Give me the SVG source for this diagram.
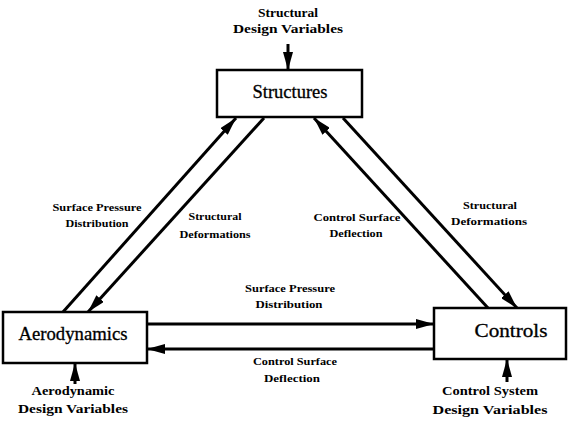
<svg xmlns="http://www.w3.org/2000/svg" width="577" height="424" viewBox="0 0 577 424">
<style>
text{font-family:"Liberation Serif","Times New Roman","DejaVu Serif",serif}
.box{fill:#fff;stroke:#000;stroke-width:2.5}
.node{font-size:18px;fill:#000;stroke:#000;stroke-width:0.3;text-anchor:middle}
.lbl{font-size:10px;font-weight:bold;fill:#000;text-anchor:middle}
.in{font-size:12.5px;font-weight:bold;fill:#000;text-anchor:middle}
.conn{stroke:#000;stroke-width:3;fill:none;stroke-linecap:butt}
</style>
<defs>
<marker id="ah" markerUnits="userSpaceOnUse" markerWidth="18" markerHeight="10" refX="18" refY="5" orient="auto">
<path d="M0,0 L18,5 L0,10 z" fill="#000"/>
</marker>
</defs>
<g id="connectors" font-family="Liberation Serif, serif">
<line class="conn" x1="63" y1="312" x2="236" y2="118" marker-end="url(#ah)"/>
<line class="conn" x1="264" y1="118" x2="88" y2="312" marker-end="url(#ah)"/>
<line class="conn" x1="488" y1="308" x2="314" y2="118" marker-end="url(#ah)"/>
<line class="conn" x1="343" y1="118" x2="517" y2="308" marker-end="url(#ah)"/>
<line class="conn" x1="147" y1="324" x2="434" y2="324" marker-end="url(#ah)"/>
<line class="conn" x1="434" y1="349" x2="147" y2="349" marker-end="url(#ah)"/>
<line class="conn" x1="288" y1="44" x2="288" y2="70" marker-end="url(#ah)"/>
<line class="conn" x1="75" y1="384" x2="75" y2="363" marker-end="url(#ah)"/>
<line class="conn" x1="507" y1="382" x2="507" y2="359" marker-end="url(#ah)"/>
<text class="lbl" x="97" y="211" textLength="89" lengthAdjust="spacingAndGlyphs">Surface Pressure</text>
<text class="lbl" x="97" y="227" textLength="63" lengthAdjust="spacingAndGlyphs">Distribution</text>
<text class="lbl" x="215" y="220" textLength="53" lengthAdjust="spacingAndGlyphs">Structural</text>
<text class="lbl" x="215" y="238" textLength="71" lengthAdjust="spacingAndGlyphs">Deformations</text>
<text class="lbl" x="357" y="221" textLength="87" lengthAdjust="spacingAndGlyphs">Control Surface</text>
<text class="lbl" x="356" y="237" textLength="53" lengthAdjust="spacingAndGlyphs">Deflection</text>
<text class="lbl" x="490" y="209" textLength="54" lengthAdjust="spacingAndGlyphs">Structural</text>
<text class="lbl" x="489" y="225" textLength="76" lengthAdjust="spacingAndGlyphs">Deformations</text>
<text class="lbl" x="290" y="292" textLength="90" lengthAdjust="spacingAndGlyphs">Surface Pressure</text>
<text class="lbl" x="289" y="308" textLength="67" lengthAdjust="spacingAndGlyphs">Distribution</text>
<text class="lbl" x="295" y="365" textLength="84" lengthAdjust="spacingAndGlyphs">Control Surface</text>
<text class="lbl" x="292" y="382" textLength="56" lengthAdjust="spacingAndGlyphs">Deflection</text>
</g>
<g id="structures">
<rect class="box" x="217" y="70" width="145" height="47"/>
<text class="node" x="290" y="98" textLength="75" lengthAdjust="spacingAndGlyphs">Structures</text>
<text class="in" x="288" y="17" textLength="60" lengthAdjust="spacingAndGlyphs">Structural</text>
<text class="in" x="288" y="33" textLength="110" lengthAdjust="spacingAndGlyphs">Design Variables</text>
</g>
<g id="aerodynamics">
<rect class="box" x="3" y="312" width="144" height="51"/>
<text class="node" x="73" y="340" textLength="109" lengthAdjust="spacingAndGlyphs">Aerodynamics</text>
<text class="in" x="73" y="395" textLength="83" lengthAdjust="spacingAndGlyphs">Aerodynamic</text>
<text class="in" x="73" y="413" textLength="110" lengthAdjust="spacingAndGlyphs">Design Variables</text>
</g>
<g id="controls">
<rect class="box" x="434" y="308" width="132" height="51"/>
<text class="node" x="511" y="337" textLength="73" lengthAdjust="spacingAndGlyphs">Controls</text>
<text class="in" x="490" y="395" textLength="96" lengthAdjust="spacingAndGlyphs">Control System</text>
<text class="in" x="490" y="414" textLength="115" lengthAdjust="spacingAndGlyphs">Design Variables</text>
</g>
</svg>
